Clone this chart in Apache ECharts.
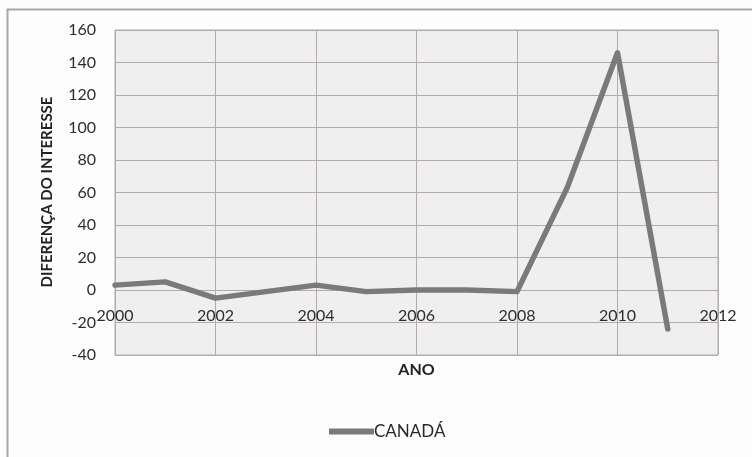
<!DOCTYPE html>
<html>
<head>
<meta charset="utf-8">
<script src="https://cdn.jsdelivr.net/npm/echarts@6/dist/echarts.min.js"></script>
<style>
  html, body { margin: 0; padding: 0; background: #fdfdfd; }
  #chart { width: 752px; height: 457px; }
</style>
</head>
<body>
<div id="chart"></div>
<script>
// Years and the yearly difference in interest for Canada
const years = [2000, 2001, 2002, 2003, 2004, 2005, 2006, 2007, 2008, 2009, 2010, 2011];
const canada = [3, 5, -5, -1, 3, -1, 0, 0, -1, 63, 146, -24];
const seriesName = 'CANADÁ';
const xTitle = 'ANO';
const yTitle = 'DIFERENÇA DO INTERESSE';

const font = 'Lato, "Open Sans", sans-serif';
const gridColor = '#b3abab';

const chart = echarts.init(document.getElementById('chart'));
chart.setOption({
  backgroundColor: '#fdfdfd',
  animation: false,
  graphic: [{
    type: 'rect',
    left: 5, top: 7,
    shape: { width: 800, height: 500 },
    style: { fill: 'none', stroke: '#a8a8a8', lineWidth: 2 },
    z: -1
  }, {
    // vertical axis title, centred on the plot
    type: 'text',
    x: 47, y: 192,
    rotation: Math.PI / 2,
    style: {
      text: yTitle,
      fontFamily: font, fontSize: 15, fontWeight: 'bold', fill: '#222',
      align: 'center', verticalAlign: 'middle'
    }
  }],
  grid: {
    left: 115, top: 30, right: 34, bottom: 102,
    show: true,
    backgroundColor: '#efefef',
    borderColor: gridColor,
    borderWidth: 1
  },
  legend: {
    left: 324, top: 418,
    icon: 'rect',
    itemWidth: 45, itemHeight: 6,
    textStyle: { fontFamily: font, fontSize: 17, color: '#2a2a2a', padding: [0, 0, 0, -5] },
    data: [seriesName]
  },
  xAxis: {
    type: 'value',
    min: 2000, max: 2012, interval: 2,
    name: xTitle,
    nameLocation: 'middle',
    nameGap: 7,
    nameTextStyle: { fontFamily: font, fontSize: 16, fontWeight: 'bold', color: '#222', verticalAlign: 'top' },
    axisLine: { show: false },
    axisTick: { show: false },
    axisLabel: {
      fontFamily: font, fontSize: 16, color: '#2e2e2e',
      // labels sit just under the zero line
      margin: -47,
      formatter: v => String(v)
    },
    splitLine: { show: true, lineStyle: { color: gridColor, width: 1 } }
  },
  yAxis: {
    type: 'value',
    min: -40, max: 160, interval: 20,
    axisLine: { show: false },
    axisTick: { show: false },
    axisLabel: { fontFamily: font, fontSize: 16, color: '#2e2e2e', margin: 19 },
    splitLine: { show: true, lineStyle: { color: gridColor, width: 1 } }
  },
  series: [{
    name: seriesName,
    type: 'line',
    data: years.map((y, i) => [y, canada[i]]),
    showSymbol: false,
    symbol: 'none',
    lineStyle: { color: '#7a7a7a', width: 5.5, cap: 'round', join: 'round' },
    itemStyle: { color: '#7a7a7a' }
  }]
});
</script>
</body>
</html>
